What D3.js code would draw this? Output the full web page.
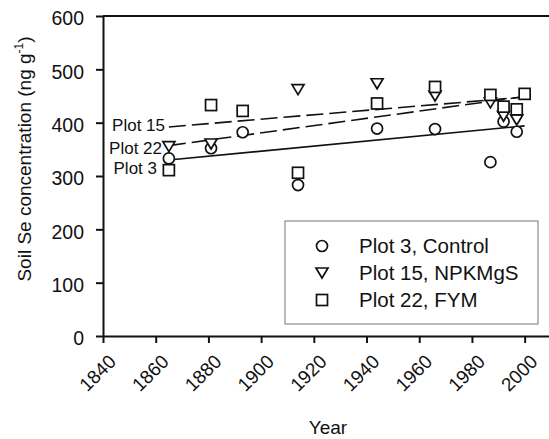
<!DOCTYPE html>
<html>
<head>
<meta charset="utf-8">
<script src="https://cdn.jsdelivr.net/npm/d3@7"></script>
<style>
  body { margin: 0; background: #fff; }
  text { font-family: "Liberation Sans", Arial, sans-serif; fill: #111; }
</style>
</head>
<body>
<div id="chart"></div>
<script>
// years sampled
var years3  = [1865, 1881, 1893, 1914, 1944, 1966, 1987, 1992, 1997];
var plot3   = [333, 352, 382, 283, 389, 388, 326, 402, 383];
var years15 = [1865, 1881, 1914, 1944, 1966, 1987, 1992, 1997];
var plot15  = [355, 360, 462, 473, 450, 437, 412, 405];
var years22 = [1865, 1881, 1893, 1914, 1944, 1966, 1987, 1992, 1997, 2000];
var plot22  = [311, 433, 422, 306, 436, 467, 452, 430, 425, 454];

// fitted trend lines (end points)
var trendYears = [1865, 2000];
var trend3  = [330, 394];
var trend15 = [392, 448];
var trend22 = [357, 449];

var xTicks = [1840, 1860, 1880, 1900, 1920, 1940, 1960, 1980, 2000];
var yTicks = [0, 100, 200, 300, 400, 500, 600];
var legendNames = ["Plot 3, Control", "Plot 15, NPKMgS", "Plot 22, FYM"];
var lineNames = ["Plot 3", "Plot 15", "Plot 22"];

var width = 549, height = 439;

var svg = d3.select("#chart").append("svg")
    .attr("width", width)
    .attr("height", height);

var x = d3.scaleLinear().domain([1840, 2010]).range([103, 551]);
var y = d3.scaleLinear().domain([0, 600]).range([336, 16]);

// frame
svg.append("path")
    .attr("d", "M" + x(1840) + "," + y(600) + "H" + x(2010))
    .attr("stroke", "#111")
    .attr("stroke-width", 2);

// axes
var xAxis = svg.append("g")
    .attr("transform", "translate(0," + y(0) + ")")
    .call(d3.axisBottom(x).tickValues(xTicks).tickSize(7).tickSizeOuter(0).tickFormat(d3.format("d")));
var yAxis = svg.append("g")
    .attr("transform", "translate(" + x(1840) + ",0)")
    .call(d3.axisLeft(y).tickValues(yTicks).tickSize(7).tickSizeOuter(0));

[xAxis, yAxis].forEach(function(a){
    a.select(".domain").attr("stroke", "#111").attr("stroke-width", 2);
    a.selectAll(".tick line").attr("stroke", "#111").attr("stroke-width", 2);
    a.selectAll("text").attr("font-family", "Liberation Sans, Arial, sans-serif").attr("fill", "#111");
});

yAxis.selectAll("text").attr("font-size", 19.5).attr("x", -19).attr("dy", "0.45em");

xAxis.selectAll("text")
    .attr("font-size", 19)
    .attr("text-anchor", "end")
    .attr("y", 0).attr("dy", "0.35em")
    .attr("transform", "translate(9,22) rotate(-45)");

// axis titles
svg.append("text")
    .attr("x", 328).attr("y", 434)
    .attr("text-anchor", "middle")
    .attr("font-size", 19)
    .text("Year");

var yt = svg.append("text")
    .attr("transform", "translate(31,159) rotate(-90)")
    .attr("text-anchor", "middle")
    .attr("font-size", 19);
yt.append("tspan").text("Soil Se concentration (ng g");
yt.append("tspan").attr("font-size", 12).attr("dy", -8).text("-1");
yt.append("tspan").attr("dy", 8).text(")");

// trend lines
var line = d3.line()
    .x(function(d){ return x(d[0]); })
    .y(function(d){ return y(d[1]); });

var trends = [
    {vals: trend3,  dash: null},
    {vals: trend15, dash: "17,6"},
    {vals: trend22, dash: "17,6"}
];
trends.forEach(function(t){
    svg.append("path")
        .datum(d3.zip(trendYears, t.vals))
        .attr("d", line)
        .attr("fill", "none")
        .attr("stroke", "#111")
        .attr("stroke-width", 1.6)
        .attr("stroke-dasharray", t.dash);
});

// line labels
var labelVal = [trend3[0] - 16, trend15[0] + 3, trend22[0] - 5];
svg.selectAll(".lbl")
    .data(lineNames)
    .enter().append("text")
    .attr("x", function(d, i){ return [157, 165, 162][i]; })
    .attr("y", function(d, i){ return y(labelVal[i]); })
    .attr("dy", "0.35em")
    .attr("text-anchor", "end")
    .attr("font-size", 17)
    .text(function(d){ return d; });

// marker shapes
function marker(g, type){
    if (type == "circle") {
        g.append("circle").attr("r", 5.5);
    } else if (type == "tri") {
        g.append("path").attr("d", "M-6,-5L6,-5L0,5Z");
    } else {
        g.append("rect").attr("x", -5.5).attr("y", -5.5).attr("width", 11).attr("height", 11);
    }
    g.selectAll("*").attr("fill", "#fff").attr("stroke", "#111").attr("stroke-width", 1.7);
}

var series = [
    {years: years3,  vals: plot3,  type: "circle"},
    {years: years15, vals: plot15, type: "tri"},
    {years: years22, vals: plot22, type: "rect"}
];

series.forEach(function(s){
    d3.zip(s.years, s.vals).forEach(function(p){
        var g = svg.append("g")
            .attr("transform", "translate(" + x(p[0]) + "," + y(p[1]) + ")");
        marker(g, s.type);
    });
});

// legend
var leg = svg.append("g");
leg.append("rect")
    .attr("x", 285).attr("y", 221)
    .attr("width", 253).attr("height", 103)
    .attr("fill", "#fff")
    .attr("stroke", "#777")
    .attr("stroke-width", 1);

series.forEach(function(s, i){
    var g = leg.append("g")
        .attr("transform", "translate(322," + (246 + i * 27) + ")");
    marker(g, s.type);
    leg.append("text")
        .attr("x", 359).attr("y", 246 + i * 27)
        .attr("dy", "0.35em")
        .attr("font-size", 20.5)
        .text(legendNames[i]);
});
</script>
</body>
</html>
